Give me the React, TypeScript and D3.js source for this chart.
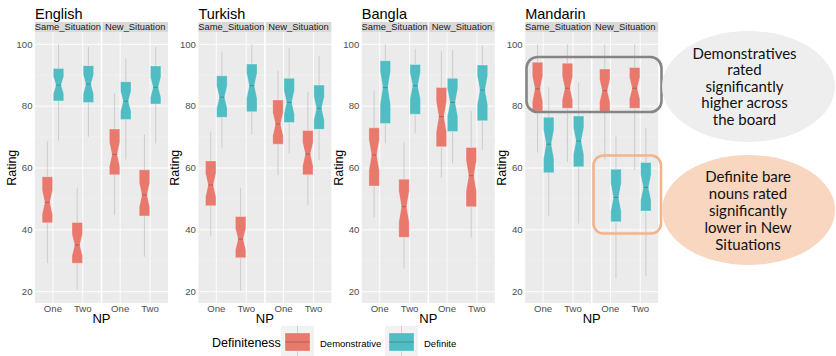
import * as React from 'react';
import * as d3 from 'd3';

const languages = ['English', 'Turkish', 'Bangla', 'Mandarin'];
const situations = ['Same_Situation', 'New_Situation'];
const nps = ['One', 'Two'];
const definiteness = ['Demonstrative', 'Definite'];
const yTicks = [20, 40, 60, 80, 100];
const yMinor = [30, 50, 70, 90];

// [lower whisker, lower hinge, median, upper hinge, upper whisker]
// rows: Same/One/Dem, Same/One/Def, Same/Two/Dem, Same/Two/Def, New/One/Dem, New/One/Def, New/Two/Dem, New/Two/Def
const englishStats = [
  [29.2, 42.3, 48.9, 57.2, 68.6],
  [68.8, 81.7, 86.8, 92.2, 100],
  [20.8, 29.2, 35.1, 42.4, 53.6],
  [70.1, 81.2, 87.1, 93.1, 99.2],
  [44.8, 57.8, 64.4, 72.6, 84.2],
  [62.8, 75.7, 81.6, 87.9, 95.5],
  [31.3, 44.5, 51.3, 59.4, 70.8],
  [68, 80.7, 86.1, 93, 99.2],
];
const turkishStats = [
  [38, 47.8, 54.5, 62.3, 71.8],
  [66.6, 76.4, 82.9, 89.8, 97.6],
  [20.3, 31, 37, 44.3, 53.6],
  [70.9, 78.2, 86.6, 93.6, 100],
  [57.7, 67.7, 74.2, 82, 91.5],
  [64.7, 74.7, 81.2, 89, 98.7],
  [48, 57.8, 64.5, 72.1, 84.7],
  [62.6, 72.5, 79.3, 86.8, 96.2],
];
const banglaStats = [
  [44, 54.2, 64.2, 73, 85],
  [68, 74.4, 86, 94.7, 100],
  [27.5, 37.6, 47.5, 56.4, 68.3],
  [71.2, 77.4, 86.6, 93.5, 98.5],
  [56.9, 66.9, 76.6, 86, 97.8],
  [61.5, 71.8, 81.2, 89, 98.2],
  [37.5, 47.5, 57.5, 66.6, 78.4],
  [65.8, 75.3, 85.2, 93.3, 99.6],
];
const mandarinStats = [
  [65, 78.4, 85.6, 94.2, 100],
  [44.5, 58.5, 67.7, 76.4, 86.1],
  [62, 79.3, 85.8, 93.9, 100],
  [42.1, 60.4, 68.7, 76.8, 87.7],
  [62.8, 78, 85, 92, 100],
  [24.3, 42.6, 50.5, 59.6, 70.3],
  [59.4, 79.3, 85.8, 92.5, 100],
  [25.1, 46.1, 53.7, 61.8, 73],
];
const statsByLanguage = [englishStats, turkishStats, banglaStats, mandarinStats];

const noteHigh = ['Demonstratives', 'rated', 'significantly', 'higher across', 'the board'];
const noteLow = ['Definite bare', 'nouns rated', 'significantly', 'lower in New', 'Situations'];

const colors = ['#E9786D', '#4FBDC3'];
const sampleN = 36; // used for notch size (ggplot: median +/- 1.58 IQR / sqrt(n))

const panelTop = 32.5;
const panelBottom = 303;
const panelW = 133;
const gap = 1.5;
const subW = (panelW - gap) / 2;
const font = 'Liberation Sans, Arial, sans-serif';

const y = d3.scaleLinear().domain([20, 100]).range([291.7, 44.3]);

const Box = ({ s, cx, hw, fill }) => {
  const [lo, q1, med, q3, hi] = s;
  const notch = (1.58 * (q3 - q1)) / Math.sqrt(sampleN);
  const inset = hw / 2;
  const pts: [number, number][] = [
    [cx - hw, y(q3)],
    [cx + hw, y(q3)],
    [cx + hw, y(med + notch)],
    [cx + hw - inset, y(med)],
    [cx + hw, y(med - notch)],
    [cx + hw, y(q1)],
    [cx - hw, y(q1)],
    [cx - hw, y(med - notch)],
    [cx - hw + inset, y(med)],
    [cx - hw, y(med + notch)],
  ];
  const line = d3.line();
  return (
    <g>
      <line x1={cx} x2={cx} y1={y(hi)} y2={y(q3)} stroke='#CACACA' strokeWidth={0.9} />
      <line x1={cx} x2={cx} y1={y(q1)} y2={y(lo)} stroke='#CACACA' strokeWidth={0.9} />
      <path d={line(pts) + 'Z'} fill={fill} stroke='rgba(255,255,255,0.3)' strokeWidth={1} />
      <line
        x1={cx - hw + inset}
        x2={cx + hw - inset}
        y1={y(med)}
        y2={y(med)}
        stroke='rgba(80,80,80,0.45)'
        strokeWidth={1}
      />
    </g>
  );
};

const Panel = ({ index, name, stats }) => {
  const left = 35 + index * 163.4;
  return (
    <g>
      <text x={left} y={19} fontSize={14.5} fontFamily={font} fill='#000'>
        {name}
      </text>
      {situations.map((sit, si) => {
        const x0 = left + si * (subW + gap);
        const x = d3.scaleLinear().domain([0.4, 2.6]).range([x0, x0 + subW]);
        const hw = (x(0.35) - x(0)) / 2;
        return (
          <g key={sit}>
            <rect x={x0} y={22} width={subW} height={panelTop - 22} fill='#D9D9D9' />
            <text
              x={x0 + subW / 2}
              y={30}
              textAnchor='middle'
              fontSize={9.4}
              fontFamily={font}
              fill='#1A1A1A'>
              {sit}
            </text>
            <rect x={x0} y={panelTop} width={subW} height={panelBottom - panelTop} fill='#EBEBEB' />
            {yMinor.map((t) => (
              <line key={t} x1={x0} x2={x0 + subW} y1={y(t)} y2={y(t)} stroke='#F4F4F4' strokeWidth={0.5} />
            ))}
            {yTicks.map((t) => (
              <line key={t} x1={x0} x2={x0 + subW} y1={y(t)} y2={y(t)} stroke='#FFFFFF' strokeWidth={0.9} />
            ))}
            {nps.map((np, ni) => (
              <g key={np}>
                <line
                  x1={x(ni + 1)}
                  x2={x(ni + 1)}
                  y1={panelTop}
                  y2={panelBottom}
                  stroke='#FFFFFF'
                  strokeWidth={0.9}
                />
                <text
                  x={x(ni + 1)}
                  y={311.5}
                  textAnchor='middle'
                  fontSize={9.6}
                  fontFamily={font}
                  fill='#4D4D4D'>
                  {np}
                </text>
              </g>
            ))}
            {nps.map((np, ni) =>
              definiteness.map((def, di) => {
                const s = stats[si * 4 + ni * 2 + di];
                const cx = x(ni + 1 + (di === 0 ? -0.1875 : 0.1875));
                return <Box key={np + def} s={s} cx={cx} hw={hw} fill={colors[di]} />;
              })
            )}
          </g>
        );
      })}
      {yTicks.map((t) => (
        <text
          key={t}
          x={left - 2.5}
          y={y(t) + 3.3}
          textAnchor='end'
          fontSize={9.6}
          fontFamily={font}
          fill='#4D4D4D'>
          {t}
        </text>
      ))}
      <text
        transform={`translate(${left - 19},${(panelTop + panelBottom) / 2}) rotate(-90)`}
        textAnchor='middle'
        fontSize={12.5}
        fontFamily={font}
        fill='#000'>
        Rating
      </text>
      <text x={left + panelW / 2} y={322.5} textAnchor='middle' fontSize={13} fontFamily={font} fill='#000'>
        NP
      </text>
    </g>
  );
};

const Legend = () => {
  const keys = [
    { x: 281, label: 'Demonstrative' },
    { x: 385, label: 'Definite' },
  ];
  return (
    <g>
      <text x={212} y={347} fontSize={12.5} fontFamily={font} fill='#000'>
        Definiteness
      </text>
      {keys.map((k, i) => (
        <g key={k.label}>
          <rect x={k.x} y={326} width={33} height={32} fill='#F2F2F2' />
          <line x1={k.x + 16.5} x2={k.x + 16.5} y1={326} y2={358} stroke='#CACACA' strokeWidth={0.9} />
          <rect
            x={k.x + 4}
            y={333}
            width={25}
            height={18}
            fill={colors[i]}
            stroke='rgba(255,255,255,0.3)'
            strokeWidth={1}
          />
          <line x1={k.x + 4} x2={k.x + 29} y1={342} y2={342} stroke='rgba(80,80,80,0.45)' strokeWidth={1} />
          <text x={k.x + 39} y={346.5} fontSize={9.5} fontFamily={font} fill='#000'>
            {k.label}
          </text>
        </g>
      ))}
    </g>
  );
};

const Notes = () => (
  <g>
    <rect x={526.5} y={57} width={135} height={55} rx={11} fill='none' stroke='#858585' strokeWidth={2.6} />
    <rect x={593.5} y={155.5} width={67.5} height={78} rx={10} fill='none' stroke='#F2B48A' strokeWidth={2.6} />
    <ellipse cx={748.5} cy={86.5} rx={86.5} ry={55.5} fill='#EEEEEE' />
    <ellipse cx={748.5} cy={210} rx={86.5} ry={55} fill='#F8D6BF' />
    {noteHigh.map((t, i) => (
      <text
        key={t}
        x={744.5}
        y={58.5 + i * 16.6}
        textAnchor='middle'
        fontSize={15}
        fontFamily='Lato, sans-serif'
        fill='#111'>
        {t}
      </text>
    ))}
    {noteLow.map((t, i) => (
      <text
        key={t}
        x={748}
        y={182 + i * 16.9}
        textAnchor='middle'
        fontSize={15}
        fontFamily='Lato, sans-serif'
        fill='#111'>
        {t}
      </text>
    ))}
  </g>
);

const App = () => {
  return (
    <svg
      width={836}
      height={356}
      style={{ position: 'absolute', left: 0, top: 0, background: '#fff' }}>
      {languages.map((name, i) => (
        <Panel key={name} index={i} name={name} stats={statsByLanguage[i]} />
      ))}
      <Legend />
      <Notes />
    </svg>
  );
};

export default App;
